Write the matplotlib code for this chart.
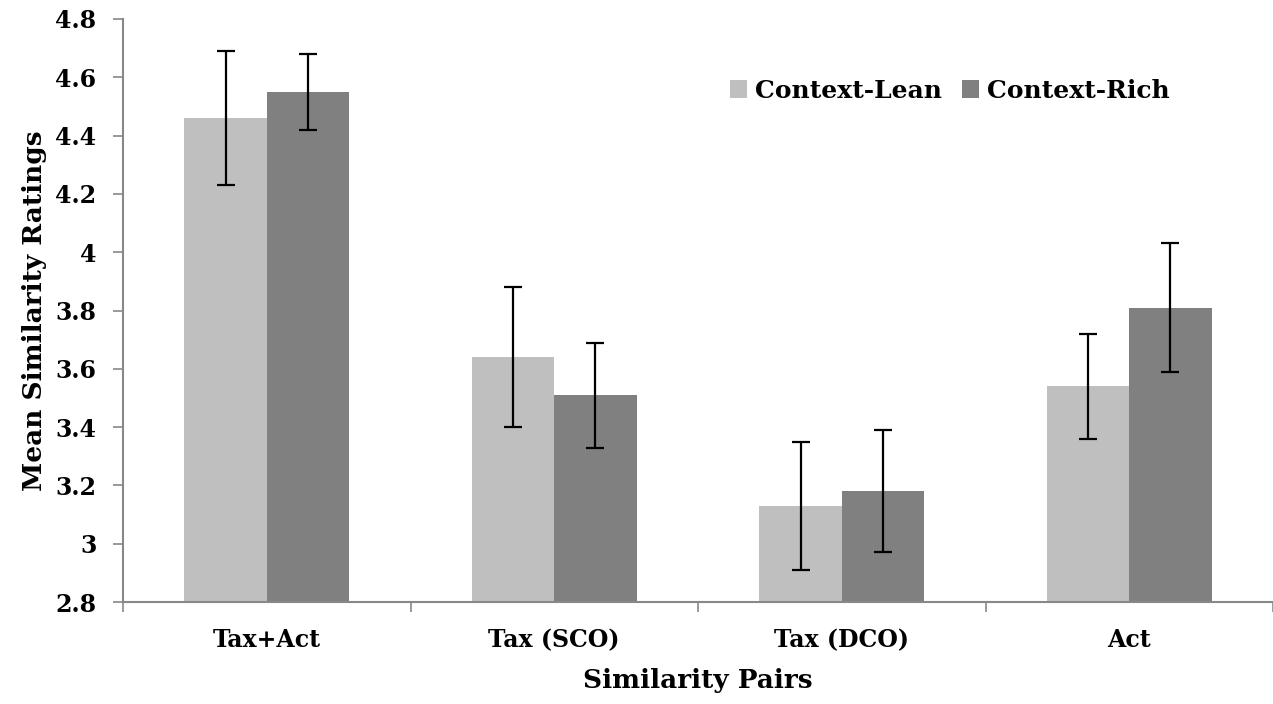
import numpy as np
import matplotlib
matplotlib.use('Agg')
import matplotlib.pyplot as plt
from matplotlib.ticker import FuncFormatter

# 資料
categories = ['Tax+Act', 'Tax (SCO)', 'Tax (DCO)', 'Act']
lean = [4.46, 3.64, 3.13, 3.54]
lean_err = [0.23, 0.24, 0.22, 0.18]
rich = [4.55, 3.51, 3.18, 3.81]
rich_err = [0.13, 0.18, 0.21, 0.22]

plt.rcParams['font.family'] = ['DejaVu Serif']
plt.rcParams['font.weight'] = 'bold'

fig = plt.figure(figsize=(12.73, 7.04), dpi=100)
ax = fig.add_axes([123/1273, 1 - 602/704, 1 - 123/1273, (602 - 19)/704])

x = np.arange(len(categories))
w = 83/290
base = 2.8
ax.bar(x - w/2, np.array(lean) - base, w, bottom=base, color='#bfbfbf', label='Context-Lean', zorder=2)
ax.bar(x + w/2, np.array(rich) - base, w, bottom=base, color='#808080', label='Context-Rich', zorder=2)
ax.errorbar(x - w/2, lean, yerr=lean_err, fmt='none', ecolor='black', elinewidth=1.6, capsize=6.5, capthick=1.6, zorder=3)
ax.errorbar(x + w/2, rich, yerr=rich_err, fmt='none', ecolor='black', elinewidth=1.6, capsize=6.5, capthick=1.6, zorder=3)

ax.set_ylim(2.8, 4.8)
ax.set_yticks(np.arange(2.8, 4.81, 0.2))
ax.yaxis.set_major_formatter(FuncFormatter(lambda v, p: ('%.1f' % v).rstrip('0').rstrip('.')))
ax.set_xlim(-0.5, 3.5 - 10/290)

# x 軸刻度在類別之間
ax.set_xticks(np.arange(-0.5, 3.6, 1.0))
ax.set_xticklabels([])
ax.set_xticks(x, minor=True)
ax.set_xticklabels(categories, minor=True)
ax.tick_params(axis='x', which='minor', length=0, pad=19, labelsize=17)
ax.tick_params(axis='x', which='major', length=7, color='#888888', width=1.2, direction='out')
ax.tick_params(axis='y', length=7, color='#888888', width=1.2, direction='out', labelsize=17, pad=12)

for s in ['top', 'right']:
    ax.spines[s].set_visible(False)
for s in ['left', 'bottom']:
    ax.spines[s].set_color('#888888')
    ax.spines[s].set_linewidth(1.5)

ax.set_ylabel('Mean Similarity Ratings', fontsize=19, fontweight='bold', labelpad=6)
ax.set_xlabel('Similarity Pairs', fontsize=19, fontweight='bold', labelpad=11)

ax.legend(loc='center', bbox_to_anchor=(0.719, 0.877), ncol=2, frameon=False, fontsize=18,
          handlelength=0.7, handleheight=0.7, handletextpad=0.3, columnspacing=0.8)

fig.savefig('out.png', dpi=100)
